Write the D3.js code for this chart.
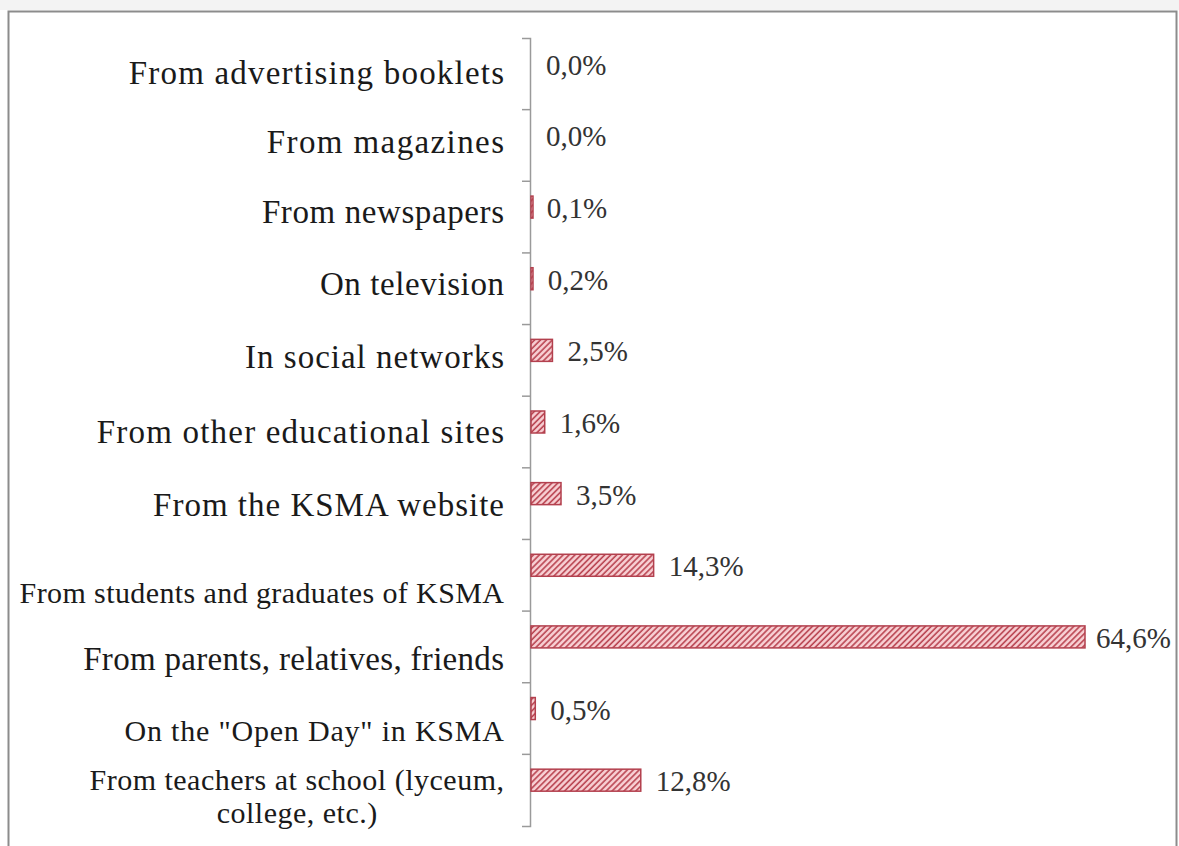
<!DOCTYPE html>
<html>
<head>
<meta charset="utf-8">
<script src="https://cdn.jsdelivr.net/npm/d3@7"></script>
<style>
  html, body { margin: 0; padding: 0; background: #ffffff; }
  svg { display: block; }
</style>
</head>
<body>
<svg id="chart" width="1179" height="846"></svg>
<script>
// ---- data (top-to-bottom order as shown) ----
const categories = [
  "From advertising booklets",
  "From magazines",
  "From newspapers",
  "On television",
  "In social networks",
  "From other educational sites",
  "From the KSMA website",
  "From students and graduates of KSMA",
  "From parents, relatives, friends",
  "On the \"Open Day\" in KSMA",
  "From teachers at school (lyceum, college, etc.)"
];
const values = [0.0, 0.0, 0.1, 0.2, 2.5, 1.6, 3.5, 14.3, 64.6, 0.5, 12.8];
const valueLabels = ["0,0%", "0,0%", "0,1%", "0,2%", "2,5%", "1,6%", "3,5%", "14,3%", "64,6%", "0,5%", "12,8%"];

// ---- layout ----
const W = 1179, H = 846;
const axisX = 530;
const labelRight = 504;
const labelSize = [33, 33, 33, 33, 33, 33, 33, 30, 33, 30, 30];
const labelSpacing = [1.2, 1.4, 0.6, 0.6, 1.0, 1.2, 1.0, 0.4, 0.3, 0.8, 0.5];
const labelDy   = [10, 8, 6, 6, 8, 11, 12, 28, 23, 22, 0];
const wrapWidth = 500;

const svg = d3.select("#chart");

// frame
svg.append("rect").attr("x", 0).attr("y", 0).attr("width", W).attr("height", 10).attr("fill", "#f3f3f3");
svg.append("rect")
  .attr("x", 8.5).attr("y", 11.5).attr("width", 1168).attr("height", 860)
  .attr("fill", "#ffffff").attr("stroke", "#8c8c8c").attr("stroke-width", 2);

// hatch pattern
const defs = svg.append("defs");
const pat = defs.append("pattern")
  .attr("id", "hatch").attr("patternUnits", "userSpaceOnUse")
  .attr("width", 4.2).attr("height", 4.2)
  .attr("patternTransform", "rotate(45)");
pat.append("rect").attr("width", 4.2).attr("height", 4.2).attr("fill", "#f8d0d4");
pat.append("line").attr("x1", 1).attr("y1", 0).attr("x2", 1).attr("y2", 4.2)
  .attr("stroke", "#b8424f").attr("stroke-width", 1.6);

// scales
const y = d3.scaleBand().domain(categories).range([38, 826]).padding(0);
const x = d3.scaleLinear().domain([0, d3.max(values)]).range([axisX + 1, 1085]);

// axis
const axisG = svg.append("g").attr("transform", `translate(${axisX},0)`)
  .call(d3.axisLeft(y).tickSize(0).tickSizeOuter(8).tickFormat(""));
axisG.select(".domain").attr("stroke", "#9a9a9a").attr("stroke-width", 1.5);
axisG.selectAll(".tick").remove();
axisG.selectAll("line.sep")
  .data(categories.slice(1))
  .join("line").attr("class", "sep")
  .attr("x1", -8).attr("x2", 0)
  .attr("y1", d => y(d)).attr("y2", d => y(d))
  .attr("stroke", "#9a9a9a").attr("stroke-width", 1.5);

const rows = categories.map((c, i) => ({ c, v: values[i], lab: valueLabels[i], i }));
const bw = y.bandwidth();
const barH = 22;

// bars
svg.append("g").selectAll("rect")
  .data(rows.filter(d => d.v > 0))
  .join("rect")
  .attr("x", x(0))
  .attr("y", d => y(d.c) + bw / 2 - 10 - barH / 2)
  .attr("width", d => Math.max(x(d.v) - x(0), 2))
  .attr("height", barH)
  .attr("fill", "url(#hatch)")
  .attr("stroke", "#b3404e")
  .attr("stroke-width", 1.5);

// value labels
svg.append("g").selectAll("text")
  .data(rows)
  .join("text")
  .attr("x", d => x(d.v) + (d.v > 50 ? 11 : 15))
  .attr("y", d => y(d.c) + bw / 2 + 1)
  .attr("font-family", "'Liberation Serif', 'Times New Roman', serif")
  .attr("font-size", 29)
  .attr("fill", "#333333")
  .text(d => d.lab);

// category labels (with wrapping)
const labG = svg.append("g")
  .attr("font-family", "'Liberation Serif', 'Times New Roman', serif")
  .attr("fill", "#1a1a1a");
rows.forEach(d => {
  const fs = labelSize[d.i];
  const ls = labelSpacing[d.i];
  const cy = y(d.c) + bw / 2 + labelDy[d.i];
  const t = labG.append("text").attr("font-size", fs).attr("text-anchor", "end")
    .attr("letter-spacing", ls)
    .attr("x", labelRight + ls).attr("y", cy).text(d.c);
  if (t.node().getComputedTextLength() > wrapWidth) {
    const words = d.c.split(" ");
    let line1 = [];
    let rest = words.slice();
    t.text("");
    while (rest.length) {
      const trial = line1.concat(rest[0]).join(" ");
      t.text(trial);
      if (t.node().getComputedTextLength() > wrapWidth * 0.85 && line1.length) break;
      line1.push(rest.shift());
    }
    t.text(line1.join(" "));
    const w1 = t.node().getComputedTextLength();
    labG.append("text").attr("font-size", fs).attr("text-anchor", "middle")
      .attr("letter-spacing", ls)
      .attr("x", labelRight + ls - w1 / 2 + ls / 2).attr("y", cy + fs * 1.1)
      .text(rest.join(" "));
  }
});
</script>
</body>
</html>
